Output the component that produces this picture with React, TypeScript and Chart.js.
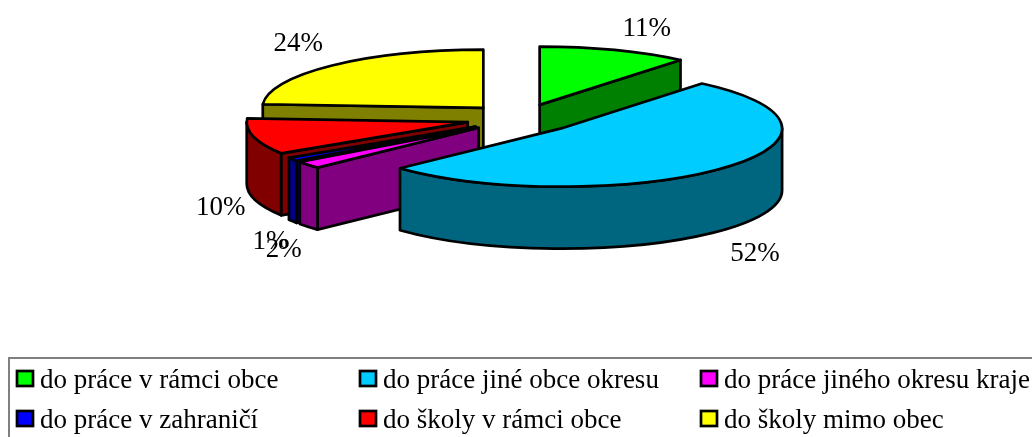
import React, { useEffect, useRef } from "react";
import { Chart, registerables } from "chart.js";

Chart.register(...registerables);

const categories = [
  "do práce v rámci obce",
  "do práce jiné obce okresu",
  "do práce jiného okresu kraje",
  "do práce v zahraničí",
  "do školy v rámci obce",
  "do školy mimo obec",
];
const shares = [11, 52, 2, 1, 10, 24];
const faceColors = ["#00FF00", "#00CCFF", "#FF00FF", "#0000FF", "#FF0000", "#FFFF00"];
const wallColors = ["#008000", "#006680", "#800080", "#000080", "#800000", "#808000"];

const SQUASH = 58 / 220;
const DEPTH = 62;
const FONT = '"Liberation Serif", "Times New Roman", serif';
const FONT_SIZE = 27;
const paintOrder = [5, 0, 4, 3, 2, 1];
const labelNudge = [
  [107, -76],
  [194, 125],
  [-195, 122],
  [-205, 115],
  [-247, 86],
  [-185, -64],
];
const legendCols = [17, 360, 701];
const legendRows = [371, 411];

function pie3d(ctx: CanvasRenderingContext2D, arc: any, face: string, wall: string) {
  const { x, y, startAngle: a0, endAngle: a1, outerRadius: R } = arc;
  const mid = (a0 + a1) / 2;
  const off = arc.options.offset;
  const cx = x + Math.cos(mid) * off;
  const cy = y + Math.sin(mid) * off * SQUASH;
  const ry = R * SQUASH;
  const pt = (a: number): [number, number] => [cx + R * Math.cos(a), cy + ry * Math.sin(a)];
  const stroke = () => {
    ctx.lineWidth = 2.7;
    ctx.strokeStyle = "#000";
    ctx.lineJoin = "round";
    ctx.stroke();
  };
  const quad = (a: number) => {
    const p = pt(a);
    ctx.beginPath();
    ctx.moveTo(cx, cy);
    ctx.lineTo(p[0], p[1]);
    ctx.lineTo(p[0], p[1] + DEPTH);
    ctx.lineTo(cx, cy + DEPTH);
    ctx.closePath();
    ctx.fillStyle = wall;
    ctx.fill();
    stroke();
  };
  // radial cut faces: only those turned towards the viewer
  if (Math.cos(a0) < 0) quad(a0);
  if (Math.cos(a1) > 0) quad(a1);
  // outer wall: the part of the rim on the viewer's side
  const TAU = Math.PI * 2;
  for (const k of [-1, 0, 1]) {
    const lo = Math.max(a0, k * TAU);
    const hi = Math.min(a1, k * TAU + Math.PI);
    if (hi > lo) {
      const p = pt(hi);
      ctx.beginPath();
      ctx.ellipse(cx, cy, R, ry, 0, lo, hi);
      ctx.lineTo(p[0], p[1] + DEPTH);
      ctx.ellipse(cx, cy + DEPTH, R, ry, 0, hi, lo, true);
      ctx.closePath();
      ctx.fillStyle = wall;
      ctx.fill();
      stroke();
    }
  }
  // top face
  ctx.beginPath();
  ctx.moveTo(cx, cy);
  ctx.ellipse(cx, cy, R, ry, 0, a0, a1);
  ctx.closePath();
  ctx.fillStyle = face;
  ctx.fill();
  stroke();
}

const pie3dPlugin = {
  id: "pie3d",
  beforeDatasetsDraw(chart: any) {
    const ctx: CanvasRenderingContext2D = chart.ctx;
    const arcs = chart.getDatasetMeta(0).data;
    ctx.save();
    for (const i of paintOrder) pie3d(ctx, arcs[i], faceColors[i], wallColors[i]);
    ctx.restore();
    // percentage labels
    ctx.save();
    ctx.fillStyle = "#000";
    ctx.font = `${FONT_SIZE}px ${FONT}`;
    ctx.textAlign = "center";
    ctx.textBaseline = "middle";
    arcs.forEach((arc: any, i: number) => {
      const mid = (arc.startAngle + arc.endAngle) / 2;
      const off = arc.options.offset;
      const cx = arc.x + Math.cos(mid) * off;
      const cy = arc.y + Math.sin(mid) * off * SQUASH;
      ctx.fillText(`${shares[i]}%`, cx + labelNudge[i][0], cy + labelNudge[i][1]);
    });
    ctx.restore();
    return false;
  },
  afterDraw(chart: any) {
    const ctx: CanvasRenderingContext2D = chart.ctx;
    ctx.save();
    ctx.strokeStyle = "#808080";
    ctx.lineWidth = 2;
    ctx.beginPath();
    ctx.moveTo(1032, 358);
    ctx.lineTo(9, 358);
    ctx.lineTo(9, 437);
    ctx.stroke();
    ctx.font = `${FONT_SIZE}px ${FONT}`;
    ctx.textAlign = "left";
    ctx.textBaseline = "alphabetic";
    categories.forEach((label, i) => {
      const col = i % 3;
      const row = Math.floor(i / 3);
      const x = legendCols[col];
      const y = legendRows[row];
      ctx.fillStyle = faceColors[i];
      ctx.fillRect(x, y, 16, 15);
      ctx.strokeStyle = "#000";
      ctx.lineWidth = 2.7;
      ctx.strokeRect(x, y, 16, 15);
      ctx.fillStyle = "#000";
      ctx.fillText(label, x + 23, y + 17);
    });
    ctx.restore();
  },
};

export default function App() {
  const ref = useRef<HTMLCanvasElement>(null);
  useEffect(() => {
    const chart = new Chart(ref.current!, {
      type: "pie",
      data: {
        labels: categories,
        datasets: [
          {
            data: shares,
            backgroundColor: faceColors,
            borderWidth: 0,
            offset: 55,
            radius: 221,
          } as any,
        ],
      },
      options: {
        responsive: false,
        animation: false,
        layout: { padding: { left: 10, right: 0, top: 0, bottom: 200 } },
        plugins: { legend: { display: false }, tooltip: { enabled: false }, title: { display: false } },
      },
      plugins: [pie3dPlugin],
    } as any);
    return () => chart.destroy();
  }, []);
  return (
    <div style={{ position: "absolute", left: 0, top: 0, width: 1032, height: 437, background: "#fff" }}>
      <canvas ref={ref} width={1032} height={437} style={{ display: "block" }} />
    </div>
  );
}
